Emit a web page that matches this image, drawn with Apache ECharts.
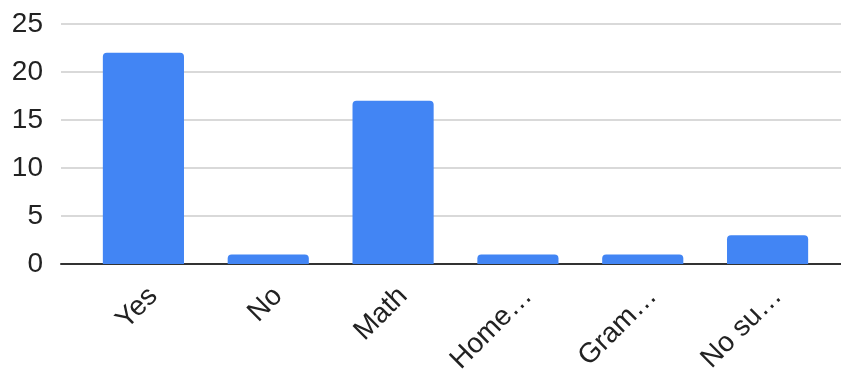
<!DOCTYPE html>
<html>
<head>
<meta charset="utf-8">
<script src="https://cdn.jsdelivr.net/npm/echarts@6/dist/echarts.min.js"></script>
<style>
  html, body { margin: 0; padding: 0; background: #fff; }
  #chart { width: 841px; height: 374px; }
</style>
</head>
<body>
<div id="chart"></div>
<script>
// Responses per answer
const categories = ['Yes', 'No', 'Math', 'Home…', 'Gram…', 'No su…'];
const counts = [22, 1, 17, 1, 1, 3];
const yTicks = { min: 0, max: 25, interval: 5 };

const FONT = '"Liberation Sans", Arial, sans-serif';
const TEXT = '#222222';

const chart = echarts.init(document.getElementById('chart'));
chart.setOption({
  animation: false,
  grid: [
    // bars
    { left: 81, right: 11, top: 24, bottom: 110, outerBoundsMode: 'none', containLabel: false },
    // gridlines, value labels and baseline spanning the full width
    { left: 61, right: 0, top: 24, bottom: 110, outerBoundsMode: 'none', containLabel: false }
  ],
  xAxis: [
    {
      type: 'category',
      gridIndex: 0,
      data: categories,
      axisLine: { show: false },
      axisTick: { show: false },
      axisLabel: {
        rotate: 45,
        margin: 18,
        interval: 0,
        verticalAlign: 'top',
        fontSize: 28,
        fontFamily: FONT,
        color: TEXT
      }
    },
    {
      type: 'value',
      gridIndex: 1,
      min: 0,
      max: 1,
      axisLine: { show: true, lineStyle: { color: '#333333', width: 2 } },
      axisTick: { show: false },
      axisLabel: { show: false },
      splitLine: { show: false }
    }
  ],
  yAxis: [
    {
      type: 'value',
      gridIndex: 0,
      min: yTicks.min,
      max: yTicks.max,
      interval: yTicks.interval,
      axisLine: { show: false },
      axisTick: { show: false },
      axisLabel: { show: false },
      splitLine: { show: false }
    },
    {
      type: 'value',
      gridIndex: 1,
      min: yTicks.min,
      max: yTicks.max,
      interval: yTicks.interval,
      axisLine: { show: false },
      axisTick: { show: false },
      axisLabel: {
        margin: 18,
        fontSize: 28,
        fontFamily: FONT,
        color: TEXT
      },
      splitLine: { show: true, lineStyle: { color: '#cccccc', width: 1.5 } }
    }
  ],
  series: [
    {
      type: 'bar',
      xAxisIndex: 0,
      yAxisIndex: 0,
      data: counts,
      barCategoryGap: '35%',
      z: 3,
      itemStyle: { color: '#4285f4', borderRadius: [4, 4, 0, 0] }
    }
  ]
});
</script>
</body>
</html>
